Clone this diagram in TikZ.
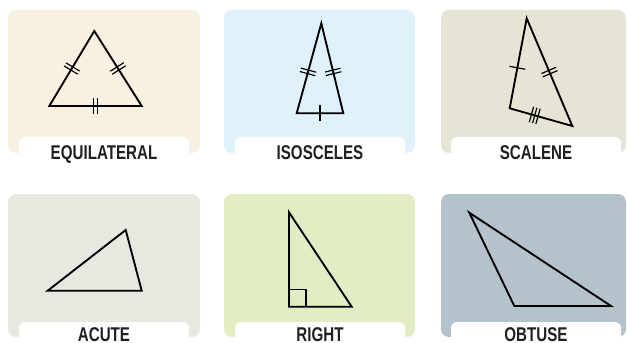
\documentclass[tikz,border=0pt]{standalone}
\usepackage{fontspec}
\setmainfont{Liberation Sans}
\newfontfamily\labelfont{Liberation Sans}[FakeStretch=0.76]
\usetikzlibrary{decorations.markings}

\definecolor{eqcol}{HTML}{F8F0E0}
\definecolor{isocol}{HTML}{DFF1FB}
\definecolor{sccol}{HTML}{E6E4D4}
\definecolor{accol}{HTML}{E8E8E1}
\definecolor{rtcol}{HTML}{E2EDC6}
\definecolor{obcol}{HTML}{B4C2CB}
\definecolor{inkcol}{HTML}{231F20}

\begin{document}
\begin{tikzpicture}[x=0.03cm,y=-0.03cm,
    panel/.style={rounded corners=2.4mm},
    tab/.style={fill=white, rounded corners=1.8mm},
    lbl/.style={anchor=base, inner sep=0pt, text=inkcol,
      font=\labelfont\bfseries\fontsize{17}{20}\selectfont},
    tri/.style={draw=black, line width=1.6pt, line join=miter},
    tickline/.style={draw=black, line width=1pt},
    onetick/.style={postaction={decorate}, decoration={markings,
      mark=at position #1 with {\draw[tickline] (0,-8) -- (0,8);}}},
    onetick/.default=0.5,
    twoticks/.style={postaction={decorate}, decoration={markings,
      mark=at position #1 with {\draw[tickline] (-1.8,-8) -- (-1.8,8) (1.8,-8) -- (1.8,8);}}},
    twoticks/.default=0.5,
    threeticks/.style={postaction={decorate}, decoration={markings,
      mark=at position #1 with {\draw[tickline] (-3.4,-8) -- (-3.4,8) (0,-8) -- (0,8) (3.4,-8) -- (3.4,8);}}},
    threeticks/.default=0.5]
  % \draw[help lines, gray!50, very thin] (0,0) grid[step=10] (627,343);
  \useasboundingbox (0,0) rectangle (627,343);

  % equilateral
  \fill[eqcol, panel] (8,10) rectangle (200,153);
  \path[tab] (19,137) rectangle (189,160);
  \node[lbl] (eqname) at (104,159.3) {EQUILATERAL};
  \coordinate (eqA) at (94.3,31);
  \coordinate (eqB) at (49.3,106);
  \coordinate (eqC) at (141.7,106);
  \draw[tri] (eqA) -- (eqB) -- (eqC) -- cycle;
  \path[twoticks] (eqA) -- (eqB);
  \path[twoticks] (eqA) -- (eqC);
  \path[twoticks] (eqB) -- (eqC);

  % isosceles
  \fill[isocol, panel] (224,10) rectangle (415,153);
  \path[tab] (235,137) rectangle (405,160);
  \node[lbl] (isoname) at (320,159.3) {ISOSCELES};
  \coordinate (isoA) at (321.3,23.3);
  \coordinate (isoB) at (296.7,113.3);
  \coordinate (isoC) at (343.3,113.3);
  \draw[tri] (isoA) -- (isoB) -- (isoC) -- cycle;
  \path[twoticks=0.54] (isoA) -- (isoB);
  \path[twoticks=0.54] (isoA) -- (isoC);
  \path[onetick] (isoB) -- (isoC);

  % scalene
  \fill[sccol, panel] (441,10) rectangle (626,153);
  \path[tab] (451,137) rectangle (621,160);
  \node[lbl] (scname) at (536,159.3) {SCALENE};
  \coordinate (scA) at (526.7,18.3);
  \coordinate (scB) at (509.7,108.3);
  \coordinate (scC) at (572.3,126);
  \draw[tri] (scA) -- (scB) -- (scC) -- cycle;
  \path[onetick=0.55] (scA) -- (scB);
  \path[twoticks] (scA) -- (scC);
  \path[threeticks=0.4] (scB) -- (scC);

  % acute
  \fill[accol, panel] (8,194) rectangle (200,337);
  \path[tab] (19,322) rectangle (189,345);
  \node[lbl] (acname) at (104,341) {ACUTE};
  \coordinate (acA) at (125.7,230);
  \coordinate (acB) at (47.7,290.7);
  \coordinate (acC) at (141.7,290.7);
  \draw[tri] (acA) -- (acB) -- (acC) -- cycle;

  % right
  \fill[rtcol, panel] (224,194) rectangle (415,337);
  \path[tab] (235,322) rectangle (405,345);
  \node[lbl] (rtname) at (320,341) {RIGHT};
  \coordinate (rtA) at (289,212.3);
  \coordinate (rtB) at (289,306.7);
  \coordinate (rtC) at (351.7,306.7);
  \draw[tri] (rtA) -- (rtB) -- (rtC) -- cycle;
  \draw[line width=0.9pt] (rtB) ++(17,0) |- ++(-17,-17);

  % obtuse
  \fill[obcol, panel] (441,194) rectangle (626,337);
  \path[tab] (451,322) rectangle (621,345);
  \node[lbl] (obname) at (536,341) {OBTUSE};
  \coordinate (obA) at (469.3,212.7);
  \coordinate (obB) at (514.3,306);
  \coordinate (obC) at (611,306);
  \draw[tri] (obA) -- (obB) -- (obC) -- cycle;
\end{tikzpicture}
\end{document}
